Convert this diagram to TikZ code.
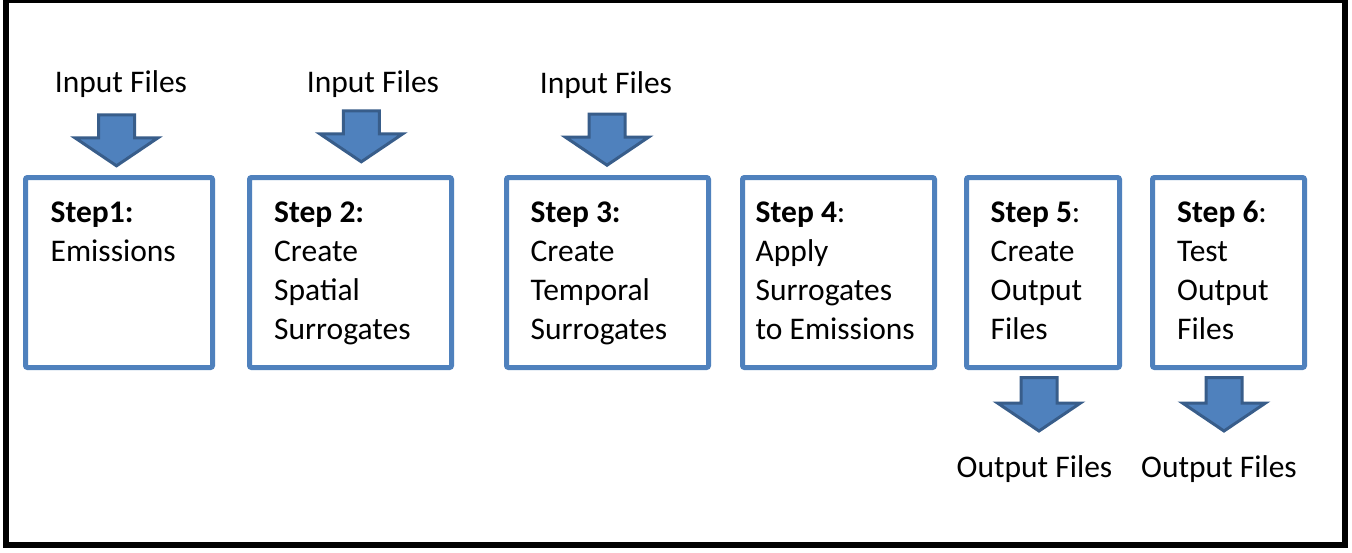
\documentclass[tikz,border=0pt]{standalone}
\usepackage{fontspec}
\setmainfont{Carlito}
\definecolor{boxblue}{HTML}{4F81BD}
\definecolor{arrowedge}{HTML}{385D8A}
\newcommand{\blockarrow}[5]{% name, cx, top, headoff, tipoff
  \coordinate (#1) at (#2,#3);
  \draw[arrowstyle] ($(#1)+(-18,0)$) -- ($(#1)+(18,0)$) -- ($(#1)+(18,#4)$) -- ($(#1)+(41.5,#4)$)
    -- ($(#1)+(0,#5)$) -- ($(#1)+(-41.5,#4)$) -- ($(#1)+(-18,#4)$) -- cycle;
}
\usetikzlibrary{calc}
\begin{document}
\begin{tikzpicture}[x=1pt,y=-1pt,
  stepbox/.style={draw=boxblue, line width=5pt, rounded corners=2pt, inner sep=0pt},
  arrowstyle/.style={fill=boxblue, draw=arrowedge, line width=3pt, line join=miter},
  lbl/.style={inner sep=0pt, anchor=base, font=\fontsize{31.5}{38.7}\selectfont},
  steptext/.style={inner sep=0pt, anchor=base west, align=left, font=\fontsize{31.5}{38.9}\selectfont}]
\useasboundingbox (0,0) rectangle (1352,552);
\fill[white] (0,0) rectangle (1352,552);
\draw[line width=6pt] (6,0) rectangle (1345,545);

% boxes
\node[stepbox, minimum width=187pt, minimum height=190pt] (s1) at (119,272.5) {};
\node[stepbox, minimum width=202pt, minimum height=190pt] (s2) at (350.5,272.5) {};
\node[stepbox, minimum width=202pt, minimum height=190pt] (s3) at (607.5,272.5) {};
\node[stepbox, minimum width=192pt, minimum height=190pt] (s4) at (838.5,272.5) {};
\node[stepbox, minimum width=153pt, minimum height=190pt] (s5) at (1043,272.5) {};
\node[stepbox, minimum width=152pt, minimum height=190pt] (s6) at (1228.5,272.5) {};

% box texts (anchor = baseline of last line)
\node[steptext] (t1) at (50.5,261.5) {\textbf{Step1:}\\Emissions};
\node[steptext] (t2) at (274,339) {\textbf{Step 2:}\\Create\\Spatial\\Surrogates};
\node[steptext] (t3) at (530.5,339) {\textbf{Step 3:}\\Create\\Temporal\\Surrogates};
\node[steptext] (t4) at (755.5,339) {\textbf{Step 4}:\\Apply\\Surrogates\\to Emissions};
\node[steptext] (t5) at (990.5,339) {\textbf{Step 5}:\\Create\\Output\\Files};
\node[steptext] (t6) at (1177,339) {\textbf{Step 6}:\\Test\\Output\\Files};

% input labels and arrows
\node[lbl] (in1) at (121,92.5) {Input Files};
\node[lbl] (in2) at (373,92.5) {Input Files};
\node[lbl] (in3) at (606,93.5) {Input Files};
\blockarrow{a1}{116.5}{114.8}{23}{51}
\blockarrow{a2}{361.3}{110.8}{23}{51}
\blockarrow{a3}{607}{114.2}{23}{51}

% output arrows and labels
\blockarrow{a5}{1039}{377.5}{25.5}{53.5}
\blockarrow{a6}{1224}{377.5}{25.5}{53.5}
\node[lbl] (out5) at (1034.5,477.5) {Output Files};
\node[lbl] (out6) at (1219,477.5) {Output Files};
\end{tikzpicture}
\end{document}
